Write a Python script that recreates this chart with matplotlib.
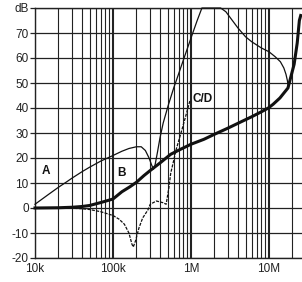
import matplotlib
matplotlib.use("Agg")
import matplotlib.pyplot as plt
from matplotlib.ticker import FixedLocator, NullFormatter

plt.rcParams['font.family'] = ['Liberation Sans', 'DejaVu Sans']

# Curve A (thin)
a_f = [1e4, 1.2e4, 1.5e4, 2e4, 2.5e4, 3e4, 4e4, 5e4, 7e4, 1e5, 1.3e5, 1.6e5, 2e5, 2.3e5,
       2.6e5, 2.9e5, 3.1e5, 3.3e5, 3.45e5, 3.7e5, 4e5, 4.4e5, 5.1e5, 6e5, 7e5, 8.15e5,
       1e6, 1.2e6, 1.38e6, 2.4e6, 2.8e6, 3.3e6, 4e6, 5e6, 6e6, 8e6, 1e7, 1.2e7, 1.4e7,
       1.55e7, 1.65e7, 1.72e7, 1.76e7]
a_db = [1.5, 3.3, 5.5, 8.3, 10.3, 12, 14.5, 16.3, 18.8, 21, 22.7, 23.8, 24.5, 24.5,
        23, 20, 17.5, 15.5, 17, 22, 28, 34, 41, 48, 54, 60,
        68, 75, 80, 80, 78.5, 75.5, 72, 68.5, 66.5, 64, 62.5, 60.5, 58.5,
        56, 53.5, 51, 49]

# Curve B (thick)
b_f = [1e4, 2e4, 3e4, 4e4, 5e4, 7e4, 1e5, 1.3e5, 1.65e5, 2e5, 2.5e5, 3e5, 4e5, 5.5e5,
       7.25e5, 1e6, 1.47e6, 2e6, 3e6, 4.4e6, 6e6, 8e6, 9.8e6, 1.13e7, 1.38e7, 1.6e7,
       1.75e7, 2.1e7, 2.3e7, 2.45e7, 2.55e7]
b_db = [0, 0.1, 0.3, 0.6, 1, 2.2, 3.6, 6.5, 8.5, 10.3, 13, 15, 18, 21.5,
        23.4, 25.5, 27.5, 29.5, 32, 34.5, 36.5, 38.5, 40, 41.5, 44, 46.5,
        48, 57.5, 66, 75, 77]

# Curve C/D (dashed)
c_f = [1e4, 2e4, 3e4, 4e4, 5e4, 7e4, 1e5, 1.2e5, 1.4e5, 1.6e5, 1.75e5, 1.82e5, 1.95e5,
       2.15e5, 2.4e5, 2.8e5, 3e5, 3.6e5, 4.4e5, 4.8e5, 5.2e5, 5.5e5, 6e5, 6.4e5,
       7.6e5, 8.6e5, 9.7e5]
c_db = [0, 0, -0.1, -0.3, -0.6, -1.5, -3, -4.5, -6.5, -10, -14.5, -15.6, -13,
        -8, -4, -0.8, 1.5, 2.8, 2.1, 1.5, 8, 14, 19, 23,
        31, 37, 43]

y_ticks = [-20, -10, 0, 10, 20, 30, 40, 50, 60, 70, 80]
y_labels = ['-20', '-10', '0', '10', '20', '30', '40', '50', '60', '70', 'dB']
x_ticks = [1e4, 1e5, 1e6, 1e7]
x_labels = ['10k', '100k', '1M', '10M']

fig = plt.figure(figsize=(3.02, 2.82), dpi=100)
ax = fig.add_axes([35/302, 1 - 258/282, 1 - 35/302, 250/282])
ax.set_xscale('log')
ax.set_xlim(1e4, 10**(4 + 267/78))
ax.set_ylim(-20, 80)

minor = []
for d in [1e4, 1e5, 1e6, 1e7]:
    for m in range(2, 10):
        minor.append(d * m)
ax.xaxis.set_major_locator(FixedLocator(x_ticks))
ax.xaxis.set_minor_locator(FixedLocator(minor))
ax.xaxis.set_minor_formatter(NullFormatter())
ax.set_xticklabels(x_labels)
ax.set_yticks(y_ticks)
ax.set_yticklabels(y_labels)

ax.grid(which='major', axis='x', color='#222222', linewidth=1.5)
ax.grid(which='minor', axis='x', color='#222222', linewidth=0.8)
ax.grid(which='major', axis='y', color='#222222', linewidth=0.9)
ax.set_axisbelow(True)

for s in ['left', 'top', 'bottom']:
    ax.spines[s].set_color('#222222')
    ax.spines[s].set_linewidth(1.0)
ax.spines['right'].set_visible(False)

ax.tick_params(axis='y', length=3.5, width=0.9, pad=1, labelsize=8.5, colors='#222222')
ax.tick_params(axis='x', which='both', length=0, pad=3.5, labelsize=8.5, colors='#222222')

ax.plot(a_f, a_db, color='#111111', linewidth=0.9, clip_on=False, zorder=3)
ax.plot(b_f, b_db, color='#111111', linewidth=2.2, clip_on=False, zorder=4)
ax.plot(c_f, c_db, color='#111111', linewidth=0.9, dashes=(2.5, 1), zorder=3)

ax.text(1.22e4, 14.8, 'A', fontsize=8.5, fontweight='bold', va='center', ha='left', color='#111111')
ax.text(1.12e5, 14, 'B', fontsize=8.5, fontweight='bold', va='center', ha='left', color='#111111')
ax.text(1.03e6, 43.6, 'C/D', fontsize=8.5, fontweight='bold', va='center', ha='left', color='#111111')

fig.savefig('out.png', dpi=100)
